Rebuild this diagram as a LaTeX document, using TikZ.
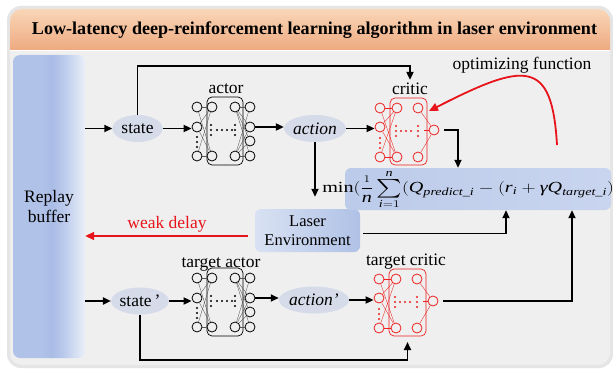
\documentclass[tikz,border=0pt]{standalone}
\usepackage{fontspec}
\usepackage{amsmath}
\usepackage{graphicx}
\setmainfont{Liberation Serif}
\usetikzlibrary{arrows.meta,shapes.geometric,calc}
\definecolor{bodyc}{HTML}{EFEFEF}
\definecolor{bandtop}{HTML}{F9D6B8}
\definecolor{bandbot}{HTML}{EEAA80}
\definecolor{bufL}{HTML}{B0C2E8}
\definecolor{bufD}{HTML}{A9BCE5}
\definecolor{bufM}{HTML}{BACAEC}
\definecolor{bufR}{HTML}{EAEFF8}
\definecolor{ellc}{HTML}{D5DBE9}
\definecolor{boxL}{HTML}{D9E2F3}
\definecolor{boxR}{HTML}{AFC1E6}
\definecolor{formL}{HTML}{BCCBEA}
\definecolor{formR}{HTML}{C9D5EF}
\definecolor{netred}{HTML}{EE2020}
\definecolor{arrred}{HTML}{E8141B}
\definecolor{wirec}{HTML}{555555}

\pgfdeclarehorizontalshading{bufshade}{100bp}{color(0bp)=(bufL); color(25bp)=(bufL); color(45bp)=(bufL); color(52bp)=(bufD); color(60bp)=(bufM); color(75bp)=(bufR); color(100bp)=(bufR)}

\newcommand\ti[1]{\textit{#1}}
\newcommand\bigsum{\mathop{\vcenter{\hbox{\scalebox{1.25}{$\textstyle\sum$}}}}\limits}

\tikzset{
  nc/.style={circle,draw,line width=0.8pt,minimum size=10pt,inner sep=0pt,fill=bodyc},
  wire/.style={line width=0.35pt},
  arr/.style={line width=1.8pt,-{Triangle[length=8pt,width=7pt]}},
  redarr/.style={line width=1.8pt,draw=arrred,-{Triangle[length=9pt,width=8pt]},arrred},
  ell/.style={ellipse,fill=ellc,minimum width=50pt,minimum height=27pt,inner sep=0pt},
  bluebox/.style={rectangle,rounded corners=6pt,left color=boxL,right color=boxR,align=center,inner sep=0pt},
}

% actor-type network: #1 prefix, #2 x, #3 y of top input circle
\newcommand\actornet[3]{%
\begin{scope}[shift={(#2,#3)}]
  \draw[line width=0.7pt,rounded corners=5pt] (10,-10) rectangle (46,58);
  \foreach \s/\yy in {i1/0,i2/20,i3/49}{\node[nc] (#1\s) at (0,\yy) {};}
  \foreach \s/\yy in {h1/0,h2/49}{\node[nc] (#1\s) at (15,\yy) {};}
  \foreach \s/\yy in {g1/0,g2/49}{\node[nc] (#1\s) at (38,\yy) {};}
  \foreach \s/\yy in {o1/0,o2/20,o3/34,o4/49}{\node[nc] (#1\s) at (53,\yy) {};}
  \foreach \s in {i1,i2,i3}{\foreach \t in {h1,h2}{\draw[wire,wirec] (#1\s) -- (#1\t);}}
  \foreach \s in {g1,g2}{\foreach \t in {o1,o2,o3,o4}{\draw[wire,wirec] (#1\s) -- (#1\t);}}
  \foreach \yy in {30,35,40}{\fill (0,\yy) circle (1.1pt);}
  \foreach \yy in {18,23,28}{\fill (14,\yy) circle (1.1pt); \fill (38,\yy) circle (1.1pt);}
  \foreach \xx in {20,25,30,35}{\fill (\xx,23) circle (1.1pt);}
  \coordinate (#1out) at (58,20);
\end{scope}}

% critic-type network
\newcommand\criticnet[3]{%
\begin{scope}[shift={(#2,#3)},draw=netred,color=netred]
  \draw[line width=0.7pt,rounded corners=5pt] (10,-10) rectangle (47,57);
  \foreach \s/\yy in {i1/0,i2/19,i3/49}{\node[nc,draw=netred] (#1\s) at (0,\yy) {};}
  \foreach \s/\yy in {h1/0,h2/49}{\node[nc,draw=netred] (#1\s) at (17,\yy) {};}
  \foreach \s/\yy in {g1/0,g2/49}{\node[nc,draw=netred] (#1\s) at (38,\yy) {};}
  \node[nc,draw=netred] (#1o) at (54,22) {};
  \foreach \s in {i1,i2,i3}{\foreach \t in {h1,h2}{\draw[wire,netred] (#1\s) -- (#1\t);}}
  \foreach \s in {g1,g2}{\draw[wire,netred] (#1\s) -- (#1o);}
  \draw[wire,netred] (#1o.west) -- (44,22);
  \foreach \yy in {30,35,40}{\fill[netred] (0,\yy) circle (1.1pt);}
  \foreach \yy in {18,23,28}{\fill[netred] (16,\yy) circle (1.1pt); \fill[netred] (38,\yy) circle (1.1pt);}
  \foreach \xx in {21,26,31}{\fill[netred] (\xx,23) circle (1.1pt);}
  \coordinate (#1bb) at (28.5,57);
  \coordinate (#1ne) at (49,3);
\end{scope}}

\begin{document}
\begin{tikzpicture}[x=1pt,y=-1pt,font=\fontsize{17.5}{20}\selectfont]
\useasboundingbox (0,0) rectangle (613,369);
\fill[white] (0,0) rectangle (613,369);
\fill[black!10,rounded corners=14pt] (7,6) rectangle (613,368);
\fill[bodyc,rounded corners=12pt] (10,9) rectangle (610,365);
\shade[top color=bandtop,bottom color=bandbot] (10,50) [rounded corners=12pt] -- (10,9) -- (610,9) [sharp corners] -- (610,50) -- cycle;
\draw[white,line width=0.8pt] (10,50.5) -- (610,50.5);

\node[font=\fontsize{18.1}{20}\selectfont\bfseries,anchor=base] (title) at (314.5,35) {Low-latency deep-reinforcement learning algorithm in laser environment};

\node[rectangle,rounded corners=7pt,minimum width=72pt,minimum height=303pt,shading=bufshade,align=center,inner sep=0pt] (buf) at (49,206.5) {Replay\\buffer};

% ellipses
\node[ell] (st) at (137.5,128.5) {state};
\node[ell,font=\fontsize{17.5}{20}\selectfont\itshape] (act) at (315,128.5) {action};
\node[ell] (stp) at (140,301) {state\,'};
\node[ell,font=\fontsize{17.5}{20}\selectfont\itshape] (actp) at (314,300) {action'};

% networks
\actornet{a}{197}{107}
\criticnet{c}{380}{108}
\actornet{ta}{197}{278}
\criticnet{tc}{379}{279}

% labels
\node[anchor=base] (lact) at (226,93) {actor};
\node[anchor=base] (lcrit) at (410,95) {critic};
\node[anchor=base] (ltact) at (221,267) {target actor};
\node[anchor=base] (ltcrit) at (406,265) {target critic};
\node[anchor=base] (lopt) at (522,70) {optimizing function};
\node[anchor=base,text=arrred] (lweak) at (167,228) {weak delay};

% boxes
\node[bluebox,minimum width=105pt,minimum height=43pt,font=\fontsize{16.5}{19}\selectfont] (laser) at (307.5,230.5) {Laser\\Environment};
\node[rectangle,rounded corners=6pt,left color=formL,right color=formR,minimum width=266pt,minimum height=42pt,inner sep=0pt] (form) at (478,189) {};
\node[inner sep=0pt,font=\fontsize{18}{20}\selectfont] (formtxt) at (478.5,189.5)
 {\scalebox{1.12}[0.86]{$\text{min}(\genfrac{}{}{}{0}{\scriptstyle 1}{\ti{n}}\bigsum_{\ti{i}=1}^{\ti{n}}(\ti{Q}_{\ti{predict\_i}}-(\ti{r}_{\ti{i}}+\ti{γ}\ti{Q}_{\ti{target\_i}}))^{2})$}};

% helper coordinates
\coordinate (topY) at (0,66);
\coordinate (botY) at (0,360);
\coordinate (critX) at (458,0);
\coordinate (fx1) at (506,0);
\coordinate (fx2) at (572,0);
\coordinate (lw) at ([yshift=-5.5pt]laser.west);
\coordinate (le) at ([yshift=-3pt]laser.east);
\coordinate (optstart) at (557,145);

% connectors top row
\draw[arr] (buf.east |- st.west) -- (st.west);
\draw[arr] (st.east) -- (st.east -| ai2.west);
\draw[arr] (aout) -- (aout -| act.west);
\draw[arr] (act.east) -- (act.east -| ci2.west);
\draw[arr] (st.north) |- (lcrit.north |- topY) -- (lcrit.north);
\draw[arr,shorten <=5pt] (co.east) -| (critX |- form.north);
\draw[arr,shorten >=12pt] (act.south) -- (act.south |- laser.north);
\draw[redarr,shorten <=7pt] (lw) -- (lw -| buf.east);
\draw[arr,shorten <=3pt] (le) -| (fx1 |- form.south);
\draw[line width=1.8pt,draw=arrred,-{Triangle[length=9pt,width=8pt]},arrred] (optstart) .. controls (552,58) and (525,62) .. (cne);

% bottom row
\draw[arr] (buf.east |- stp.west) -- (stp.west);
\draw[arr] (stp.east) -- (stp.east -| tai2.west);
\draw[arr] (taout) -- (taout -| actp.west);
\draw[arr] (actp.east) -- (actp.east -| tci2.west);
\draw[arr,shorten <=5pt] (tco.east) -| (fx2 |- form.south);
\draw[arr,shorten >=6pt] (stp.south) |- (tcbb |- botY) -- (tcbb);
\end{tikzpicture}
\end{document}
